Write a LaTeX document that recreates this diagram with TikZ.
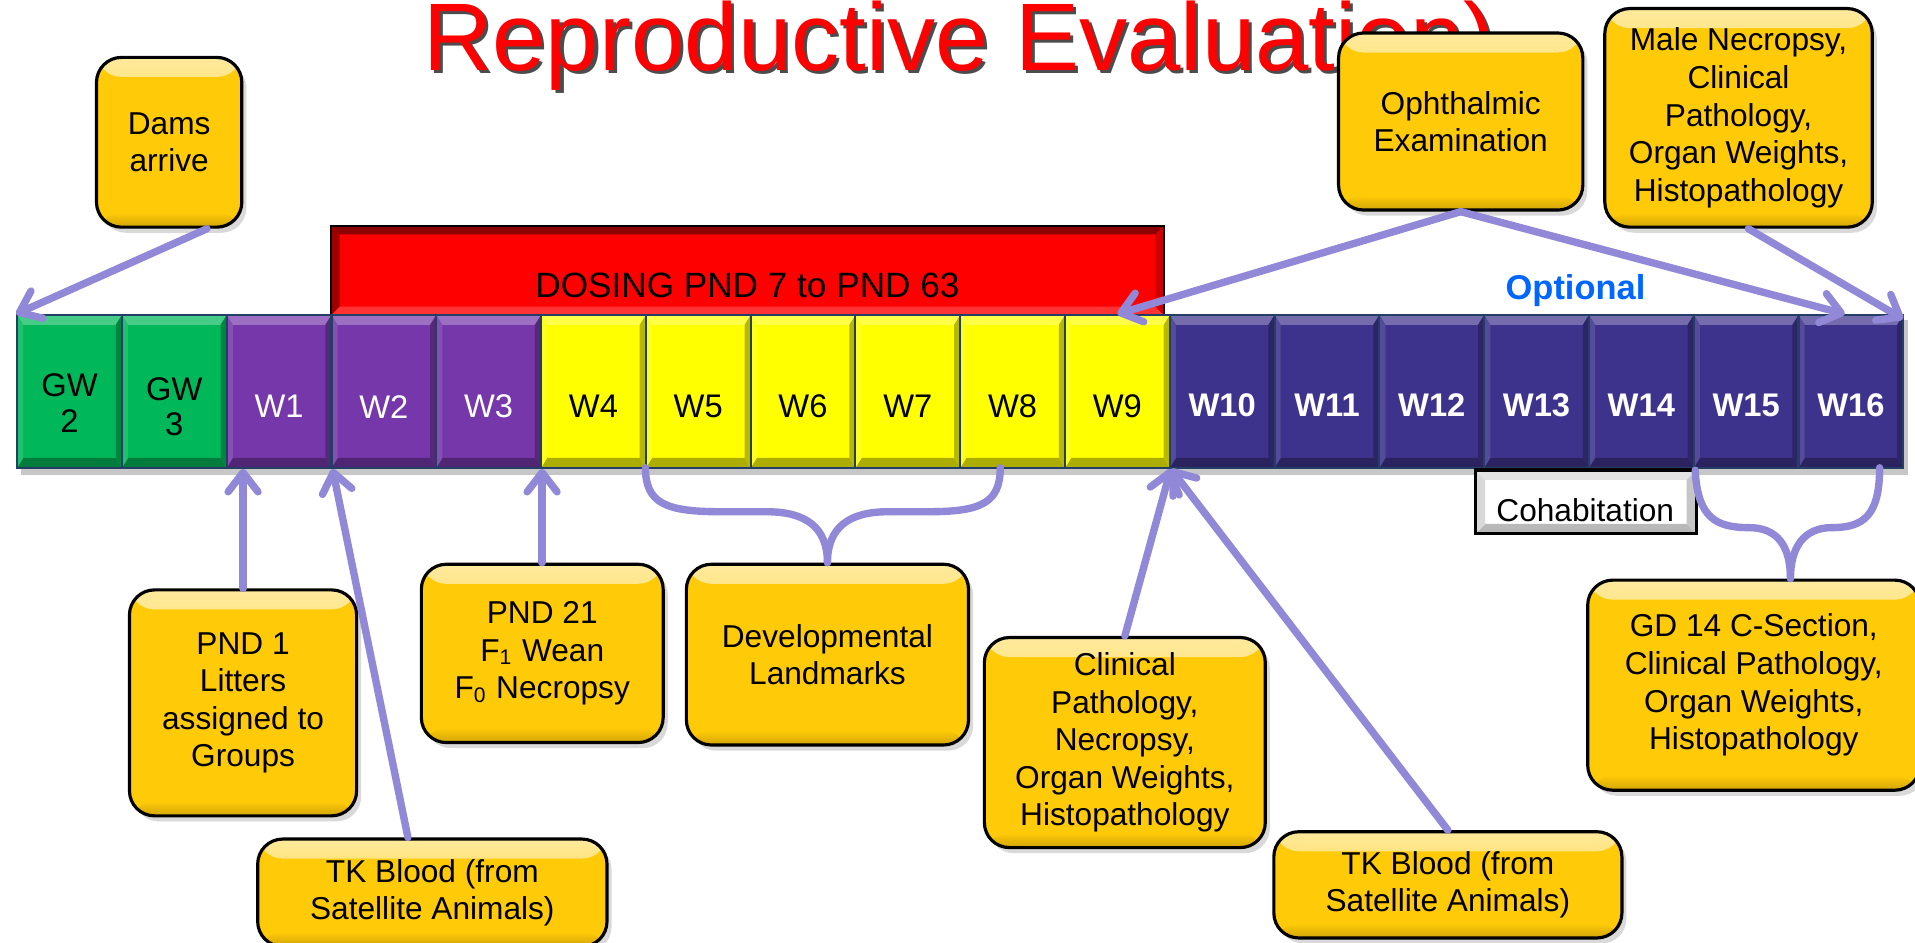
\documentclass[tikz,border=0pt]{standalone}
\usepackage{fontspec}
\setmainfont{Liberation Sans}
\usetikzlibrary{arrows.meta,shadows,calc}
\newlength{\px}
\setlength{\px}{0.012213cm}
\definecolor{gwgreen}{HTML}{00B85A}
\definecolor{wpurple}{HTML}{7637AA}
\definecolor{wyellow}{HTML}{FFFF00}
\definecolor{wnavy}{HTML}{3E338C}
\definecolor{celledge}{HTML}{243F66}
\definecolor{ybase}{HTML}{FFCA08}
\definecolor{arrowc}{HTML}{9189D8}
\definecolor{optblue}{HTML}{0066FF}
\definecolor{titlered}{HTML}{FF0000}
\newcommand{\bevfill}[6]{%
  \fill[#3] (path picture bounding box.north west) -- (path picture bounding box.north east) -- ([xshift=-#1,yshift=-#2]path picture bounding box.north east) -- ([xshift=#1,yshift=-#2]path picture bounding box.north west) -- cycle;
  \fill[#5] (path picture bounding box.south west) -- (path picture bounding box.south east) -- ([xshift=-#1,yshift=#2]path picture bounding box.south east) -- ([xshift=#1,yshift=#2]path picture bounding box.south west) -- cycle;
  \fill[#4] (path picture bounding box.north west) -- ([xshift=#1,yshift=-#2]path picture bounding box.north west) -- ([xshift=#1,yshift=#2]path picture bounding box.south west) -- (path picture bounding box.south west) -- cycle;
  \fill[#6] (path picture bounding box.north east) -- ([xshift=-#1,yshift=-#2]path picture bounding box.north east) -- ([xshift=-#1,yshift=#2]path picture bounding box.south east) -- (path picture bounding box.south east) -- cycle;
}
\newcommand{\boxfont}{\fontsize{9}{10.7}\selectfont}
\newcommand{\cellfont}{\fontsize{9.3}{10.2}\selectfont}
\tikzset{
  cell/.style={rectangle, inner sep=0pt, minimum width=85.8\px, minimum height=125\px,
    fill=#1, draw=celledge, line width=0.6pt,
    path picture={\bevfill{5\px}{8\px}{#1!72!white}{#1!88!white}{#1!68!black}{#1!72!black}}},
  clabel/.style={inner sep=0pt, align=center, font=\cellfont},
  ybox/.style={rectangle, rounded corners=0.25cm, draw=black, line width=0.9pt, fill=ybase,
    align=center, font=\boxfont, inner sep=2pt,
    drop shadow={shadow xshift=1.3pt, shadow yshift=-1.6pt, opacity=0.3},
    path picture={
      \shade[top color=ybase!40!white, bottom color=ybase] (path picture bounding box.north west) rectangle ([yshift=-16\px]path picture bounding box.north east);
      \shade[top color=ybase, bottom color=ybase!82!black] ([yshift=12\px]path picture bounding box.south west) rectangle (path picture bounding box.south east);}},
  dosebox/.style={rectangle, inner sep=0pt, minimum width=682\px, minimum height=73\px,
    fill=titlered, draw=black, line width=0.8pt,
    path picture={\bevfill{7\px}{7\px}{red!55!black}{red!62!black}{red!80!white}{red!82!black}}},
  cohabbox/.style={rectangle, inner sep=0pt, minimum width=181\px, minimum height=52\px,
    fill=white, draw=black, line width=1pt,
    path picture={\bevfill{8\px}{8\px}{gray!22}{gray!30}{gray!55}{gray!45}}},
  arr/.style={draw=arrowc, line width=2.1pt, line cap=round,
    -{Straight Barb[length=5.5pt,width=8.5pt,round]}},
  curly/.style={draw=arrowc, line width=2.1pt, line cap=round},
  titletext/.style={inner sep=0pt, anchor=base west, font=\fontsize{27.3}{32}\selectfont},
}
\begin{document}
\begin{tikzpicture}[x=0.012213cm, y=-0.012213cm]
\useasboundingbox (0,0) rectangle (1568,772);

% title (cut at top in the reference)
\node[titletext, text=black, opacity=0.7] (titlesh) at (348.5,60.5) {Reproductive Evaluation)};
\node[titletext, text=titlered] (title) at (346,58) {Reproductive Evaluation)};

% dosing bar
\node[dosebox] (dosing) at (612,221.5) {};
\node[clabel, font=\fontsize{10}{12}\selectfont] (dosingt) at (612,233.5) {DOSING PND 7 to PND 63};

% optional label
\node[inner sep=0pt, anchor=base, font=\bfseries\fontsize{9.8}{12}\selectfont, text=optblue] (opt) at (1290,245.6) {Optional};

% bar shadow
\fill[black, opacity=0.22] (17,262) rectangle (1562,389);

% cells
\foreach \i/\nm/\col in {1/gw2/gwgreen,2/gw3/gwgreen,3/w1/wpurple,4/w2/wpurple,5/w3/wpurple,
  6/w4/wyellow,7/w5/wyellow,8/w6/wyellow,9/w7/wyellow,10/w8/wyellow,11/w9/wyellow,
  12/w10/wnavy,13/w11/wnavy,14/w12/wnavy,15/w13/wnavy,16/w14/wnavy,17/w15/wnavy,18/w16/wnavy}
  \node[cell=\col] (\nm) at ({14+85.8*(\i-0.5)},320.5) {};

% cell labels
\node[clabel] (tgw2) at ({14+85.8*0.5},330) {GW\\2};
\node[clabel] (tgw3) at ({14+85.8*1.5},333) {GW\\3};
\foreach \i/\nm/\lab in {3/w1/W1,4/w2/W2,5/w3/W3}
  \node[clabel, text=white] (t\nm) at ({14+85.8*(\i-0.5)},333) {\lab};
\foreach \i/\nm/\lab in {6/w4/W4,7/w5/W5,8/w6/W6,9/w7/W7,10/w8/W8,11/w9/W9}
  \node[clabel, text=black] (t\nm) at ({14+85.8*(\i-0.5)},333) {\lab};
\foreach \i/\nm/\lab in {12/w10/W10,13/w11/W11,14/w12/W12,15/w13/W13,16/w14/W14,17/w15/W15,18/w16/W16}
  \node[clabel, text=white, font=\cellfont\bfseries] (t\nm) at ({14+85.8*(\i-0.5)},332) {\lab};

% cohabitation
\node[cohabbox] (cohab) at (1298.5,411) {};
\node[clabel, font=\boxfont] (cohabt) at (1298,417.5) {Cohabitation};

% yellow boxes
\node[ybox, minimum width=119\px, minimum height=139\px] (dams) at (138.5,116.5) {Dams\\arrive};
\node[ybox, minimum width=186\px, minimum height=185\px] (pnd1) at (199,575.5) {PND 1\\Litters\\assigned to\\Groups};
\node[ybox, minimum width=286\px, minimum height=88\px] (tk1) at (354,731) {TK Blood (from\\Satellite Animals)};
\node[ybox, minimum width=198\px, minimum height=146\px] (pnd21) at (444,535) {PND 21\\F\textsubscript{1} Wean\\F\textsubscript{0} Necropsy};
\node[ybox, minimum width=231\px, minimum height=148\px] (dev) at (677.5,536) {Developmental\\Landmarks};
\node[ybox, minimum width=230\px, minimum height=172\px] (clin) at (921,608) {Clinical\\Pathology,\\Necropsy,\\Organ Weights,\\Histopathology};
\node[ybox, minimum width=285\px, minimum height=87\px] (tk2) at (1185.5,724.5) {TK Blood (from\\Satellite Animals)};
\node[ybox, minimum width=272\px, minimum height=172\px] (gd14) at (1436,561) {GD 14 C-Section,\\Clinical Pathology,\\Organ Weights,\\Histopathology};
\node[ybox, minimum width=200\px, minimum height=145\px] (oph) at (1196,99.5) {Ophthalmic\\Examination};
\node[ybox, minimum width=219\px, minimum height=179\px] (male) at (1423.5,96.5) {Male Necropsy,\\Clinical\\Pathology,\\Organ Weights,\\Histopathology};

% connectors
\draw[arr] ($(dams.south)+(31,0)$) -- (gw2.north west);
\draw[arr] (pnd1.north) -- (pnd1.north |- w1.south);
\draw[arr] ($(tk1.north)+(-20,0)$) -- (w1.south east);
\draw[arr] (w3.south east |- pnd21.north) -- (w3.south east);
\draw[arr] (clin.north) -- (w9.south east);
\draw[arr] (tk2.north) -- (w9.south east);
\draw[arr] (oph.south) -- (w9.north);
\draw[arr] (oph.south) -- ($(w16.north)+(-5,0)$);
\draw[arr] ($(male.south)+(8,0)$) -- ($(w16.north east)+(-1,4)$);

% braces
\coordinate (dl) at (528.5,383);
\coordinate (dr) at (819,383);
\draw[curly] (dl) .. controls (528.5,412) and (545,419) .. (590,419) -- (628,419) .. controls (660,419) and (677.5,432) .. (dev.north);
\draw[curly] (dr) .. controls (819,412) and (803,419) .. (760,419) -- (727,419) .. controls (695,419) and (677.5,432) .. (dev.north);
\coordinate (gl) at (1388,385);
\coordinate (gr) at (1539,383);
\coordinate (gdtip) at ($(gd14.north)+(30,0)$);
\draw[curly] (gl) .. controls (1390,424) and (1405,432) .. (1432,432) .. controls (1456,432) and (1466,448) .. (gdtip);
\draw[curly] (gr) .. controls (1539,422) and (1526,432) .. (1500,432) .. controls (1477,432) and (1466,448) .. (gdtip);
\end{tikzpicture}
\end{document}
